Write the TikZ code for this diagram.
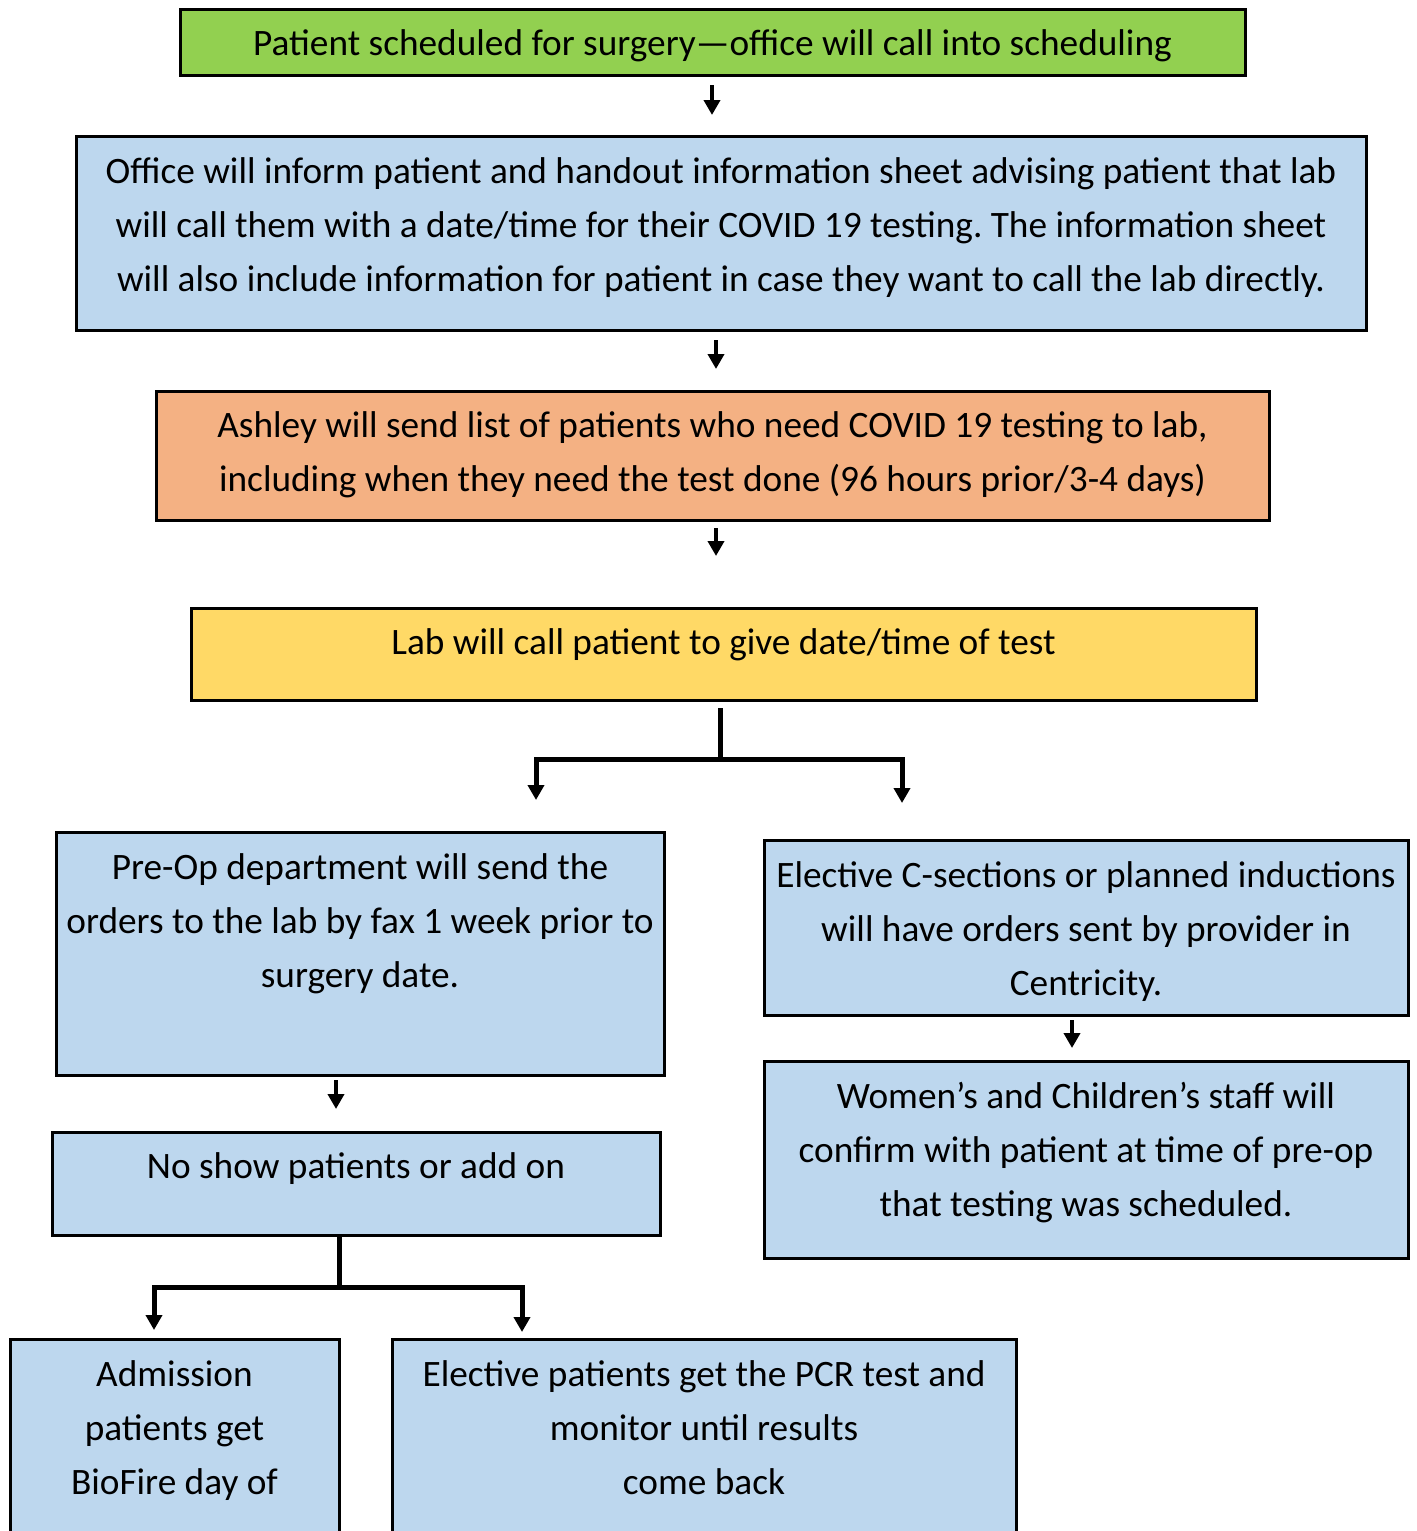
\documentclass[tikz,border=0pt]{standalone}
\usepackage{fontspec}
\setmainfont{Carlito}
\frenchspacing
\usetikzlibrary{arrows.meta}
\definecolor{cgreen}{HTML}{92D050}
\definecolor{cblue}{HTML}{BDD7EE}
\definecolor{corange}{HTML}{F4B183}
\definecolor{cyellow}{HTML}{FFD966}
\tikzset{
  box/.style={draw=black, line width=3pt, outer sep=0pt, inner sep=0pt, anchor=north west},
  txt/.style={anchor=north, align=center, inner sep=0pt, font=\fontsize{37.3}{54}\selectfont, execute at begin node=\rule{0pt}{32pt}},
  arr/.style={line width=4pt, -{Triangle[width=16pt,length=15pt]}},
  br/.style={line width=5pt},
  brarr/.style={line width=5pt, {Triangle[width=16pt,length=15pt]}-{Triangle[width=16pt,length=15pt]}}
}
\begin{document}
\begin{tikzpicture}[x=1pt,y=-1pt]
\clip (0,0) rectangle (1416,1531);
\fill[white] (0,0) rectangle (1416,1531);
% boxes
\node[box, fill=cgreen, minimum width=1065pt, minimum height=66pt] (b1) at (180,9) {};
\node[box, fill=cblue, minimum width=1290pt, minimum height=194pt] (b2) at (76,136) {};
\node[box, fill=corange, minimum width=1113pt, minimum height=129pt] (b3) at (156,391) {};
\node[box, fill=cyellow, minimum width=1065pt, minimum height=92pt] (b4) at (191,608) {};
\node[box, fill=cblue, minimum width=608pt, minimum height=243pt] (b5) at (56,832) {};
\node[box, fill=cblue, minimum width=644pt, minimum height=175pt] (b6) at (764,840) {};
\node[box, fill=cblue, minimum width=644pt, minimum height=197pt] (b7) at (764,1061) {};
\node[box, fill=cblue, minimum width=608pt, minimum height=103pt] (b8) at (52,1132) {};
\node[box, fill=cblue, minimum width=329pt, minimum height=261pt] (b9) at (10,1339) {};
\node[box, fill=cblue, minimum width=624pt, minimum height=261pt] (b10) at (392,1339) {};
% texts
\node[txt] (t1) at ([yshift=-14pt]b1.north) {Patient scheduled for surgery—office will call into scheduling};
\node[txt] (t2) at ([yshift=-21pt]b2.north) {Office will inform patient and handout information sheet advising patient that lab\\will call them with a date/time for their COVID 19 testing. The information sheet\\will also include information for patient in case they want to call the lab directly.};
\node[txt] (t3) at ([yshift=-20pt]b3.north) {Ashley will send list of patients who need COVID 19 testing to lab,\\including when they need the test done (96 hours prior/3-4 days)};
\node[txt] (t4) at ([yshift=-14pt]b4.north) {Lab will call patient to give date/time of test};
\node[txt] (t5) at ([yshift=-21pt]b5.north) {Pre-Op department will send the\\orders to the lab by fax 1 week prior to\\surgery date.};
\node[txt] (t6) at ([yshift=-21pt]b6.north) {Elective C-sections or planned inductions\\will have orders sent by provider in\\Centricity.};
\node[txt] (t7) at ([yshift=-21pt]b7.north) {Women’s and Children’s staff will\\confirm with patient at time of pre-op\\that testing was scheduled.};
\node[txt] (t8) at ([yshift=-14pt]b8.north) {No show patients or add on};
\node[txt] (t9) at ([yshift=-21pt]b9.north) {Admission\\patients get\\BioFire day of};
\node[txt] (t10) at ([yshift=-21pt]b10.north) {Elective patients get the PCR test and\\monitor until results\\come back};
% simple arrows
\coordinate (a1s) at (712,85);   \coordinate (a1e) at (712,115);
\coordinate (a2s) at (716,340);  \coordinate (a2e) at (716,369);
\coordinate (a3s) at (716,528);  \coordinate (a3e) at (716,556);
\coordinate (a4s) at (1072,1020); \coordinate (a4e) at (1072,1048);
\coordinate (a5s) at (336,1080); \coordinate (a5e) at (336,1109);
\draw[arr] (a1s) -- (a1e);
\draw[arr] (a2s) -- (a2e);
\draw[arr] (a3s) -- (a3e);
\draw[arr] (a4s) -- (a4e);
\draw[arr] (a5s) -- (a5e);
% branch 1
\coordinate (s1) at (720,708);
\coordinate (j1) at (720,759);
\coordinate (l1) at (536,800);
\coordinate (r1) at (902,803);
\draw[br] (s1) -- (j1);
\draw[brarr] (l1) |- (j1) -| (r1);
% branch 2
\coordinate (s2) at (339,1237);
\coordinate (j2) at (339,1287);
\coordinate (l2) at (154,1330);
\coordinate (r2) at (522,1332);
\draw[br] (s2) -- (j2);
\draw[brarr] (l2) |- (j2) -| (r2);
\end{tikzpicture}
\end{document}
